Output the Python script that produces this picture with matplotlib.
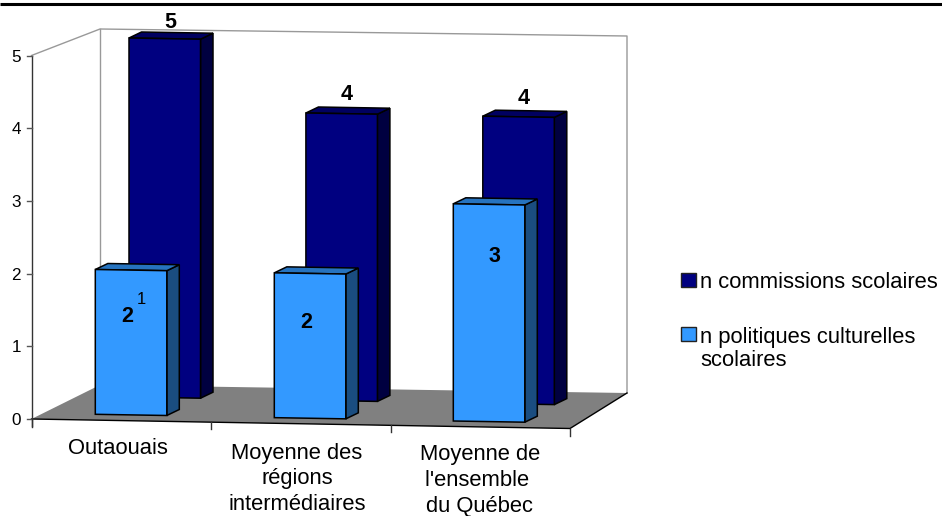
import matplotlib
matplotlib.use('Agg')
import matplotlib.pyplot as plt
from matplotlib.patches import Polygon, Rectangle

plt.rcParams['font.family'] = ['Liberation Sans', 'DejaVu Sans']

# donnees
categories = ['Outaouais', 'Moyenne des\nrégions\nintermédiaires', 'Moyenne de\nl\'ensemble \ndu Québec']
commissions = [5, 4, 4]
politiques = [2, 2, 3]
y_ticks = [0, 1, 2, 3, 4, 5]
legend_labels = ['n commissions scolaires', 'n politiques culturelles\nscolaires']

# couleurs (face, cote, dessus)
dark = ('#000080', '#000040', '#000060')
light = ('#3399FF', '#1A4D80', '#2673BF')

W, H = 942, 516
fig = plt.figure(figsize=(W / 100, H / 100), dpi=100)
ax = fig.add_axes([0, 0, 1, 1])
ax.set_xlim(0, W)
ax.set_ylim(H, 0)
ax.axis('off')

# repere en pixels de l'image
X0, Y0 = 31.5, 419
UNIT = 72.7
DX, DY = 12.5, -6
BAR_W = 71.5


def axis_y(v):
    return Y0 - v * UNIT


def draw_bar(left, base, v, unit, colors, z):
    """Barre 3D : face, cote, dessus."""
    right = left + BAR_W
    top = base - v * unit
    tilt = 1.2
    lw = 1.1
    side = [(right, top + tilt), (right + DX, top + tilt + DY), (right + DX, base + tilt + DY), (right, base + tilt)]
    cap = [(left, top), (left + DX, top + DY), (right + DX, top + tilt + DY), (right, top + tilt)]
    face = [(left, top), (right, top + tilt), (right, base + tilt), (left, base)]
    ax.add_patch(Polygon(side, fc=colors[1], ec='black', lw=lw, zorder=z))
    ax.add_patch(Polygon(cap, fc=colors[2], ec='black', lw=lw, zorder=z))
    ax.add_patch(Polygon(face, fc=colors[0], ec='black', lw=lw, zorder=z))
    return top


# trait du haut
ax.plot([0, W], [4, 4], color='black', lw=2.2, solid_capstyle='butt')

# murs et plancher
grey = '#999999'
ax.plot([X0, 100, 627, 627], [axis_y(5), 29, 36, 393], color=grey, lw=1, zorder=1)
ax.plot([100, 100], [29, 385], color=grey, lw=1, zorder=1)
ax.add_patch(Polygon([(X0, Y0), (100, 385), (627, 393), (570, 428.5)], fc='#808080', ec='none', zorder=2))
ax.plot([X0, 570, 627], [Y0, 428.5, 393], color='black', lw=1, zorder=3)

# axe des valeurs
ax.plot([X0, X0], [axis_y(5), Y0 + 8], color='#333333', lw=1, zorder=3)
for v in y_ticks:
    y = axis_y(v)
    ax.plot([X0 - 5, X0], [y, y], color='#555555', lw=1, zorder=3)
    ax.text(X0 - 10.5, y + 1.5, str(v), ha='right', va='center', fontsize=12.3)

# graduations des categories
for i in range(len(categories) + 1):
    x = X0 + i * 179.5
    y = Y0 + i * 3.17
    ax.plot([x, x], [y, y + 7], color='#333333', lw=1, zorder=3)

# barres
for i in range(len(categories)):
    draw_bar(129 + i * 176.9, 397 + i * 3.2, commissions[i], 71.8, dark, 4 + i)
    draw_bar(95.3 + i * 179, 414.3 + i * 3.35, politiques[i], 72.4, light, 4.5 + i)

# etiquettes de valeurs
dark_label_x = [170.5, 347, 524]
dark_label_y = [22.5, 94.5, 99]
light_label_x = [127, 306, 494]
light_label_y = [316.5, 322, 257]
for i in range(len(categories)):
    ax.text(dark_label_x[i], dark_label_y[i], str(commissions[i]), ha='center', va='center',
            fontsize=15.5, fontweight='bold', zorder=10)
    ax.text(light_label_x[i], light_label_y[i], str(politiques[i]), ha='center', va='center',
            fontsize=15.5, fontweight='bold', zorder=10)
ax.text(141.5, 300, '1', ha='center', va='center', fontsize=12, zorder=10)

# etiquettes des categories
cat_x = [118, 297, 480]
cat_y = [438.5, 442.5, 444]
for x, y, lab in zip(cat_x, cat_y, categories):
    ax.text(x, y, lab, ha='center', va='top', fontsize=15.8, linespacing=1.3)

# legende
ax.add_patch(Rectangle((681, 273), 14.5, 14, fc=dark[0], ec='#222222', lw=1))
ax.add_patch(Rectangle((681, 327), 14.5, 14, fc=light[0], ec='#222222', lw=1))
ax.text(700.5, 283, legend_labels[0], ha='left', va='center', fontsize=15.8)
ax.text(700.5, 327, legend_labels[1], ha='left', va='top', fontsize=15.8, linespacing=1.12)

fig.savefig('out.png', dpi=100)
